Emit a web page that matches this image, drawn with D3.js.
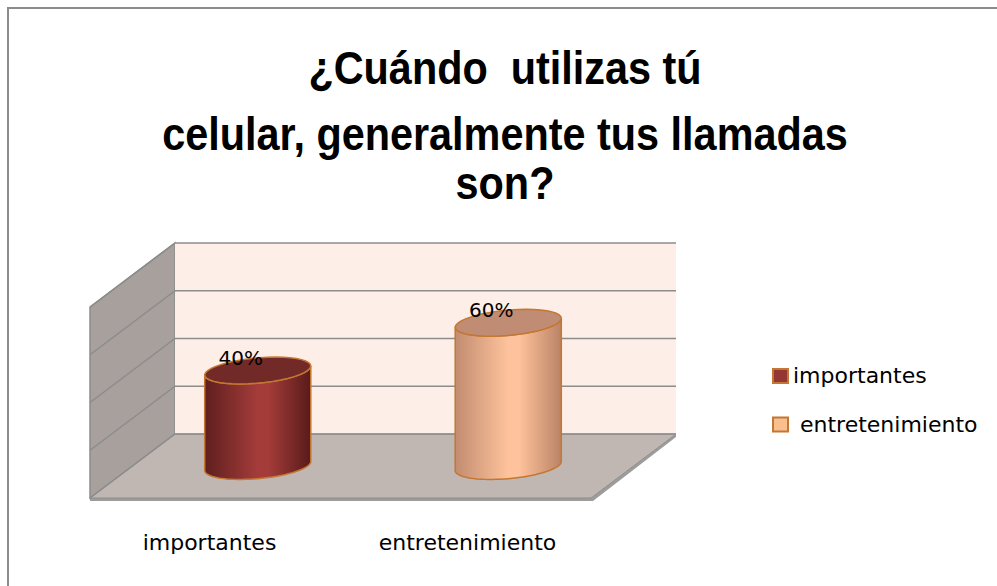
<!DOCTYPE html>
<html>
<head>
<meta charset="utf-8">
<script src="https://cdn.jsdelivr.net/npm/d3@7"></script>
<style>
  body { margin: 0; background: #fff; }
  text { white-space: pre; }
</style>
</head>
<body>
<div id="chart"></div>
<script>
(function() {
	var width = 997,
		height = 586;

	// datos
	var categories = ["importantes", "entretenimiento"];
	var values = [0.4, 0.6];
	var valueLabels = ["40%", "60%"];
	var legendLabels = ["importantes", " entretenimiento"];
	var yTicks = [0, 0.2, 0.4, 0.6, 0.8];
	var titleLines = ["¿Cuándo  utilizas tú", "celular, generalmente tus llamadas", "son?"];

	var colors = [
		{ edge1: "#5e1f1e", mid: "#a43c3a", edge2: "#581b1a", top: "#722a28", legend: "#953735" },
		{ edge1: "#c28c70", mid: "#fec39c", edge2: "#bb8366", top: "#c08c73", legend: "#fabf8f" }
	];
	var outline = "#c47732";

	var svg = d3.select("#chart")
		.append("svg")
		.attr("width", width)
		.attr("height", height)

	// marco
	svg.append("rect")
		.attr("x", 8).attr("y", 8)
		.attr("width", 1100).attr("height", 700)
		.attr("fill", "#fff")
		.attr("stroke", "#8c8c8c")
		.attr("stroke-width", 2)

	// titulo (fuente estrecha: Liberation Sans comprimida)
	var titleY = [84, 150, 199];
	svg.append("g")
		.attr("transform", "translate(505,0) scale(0.9,1)")
		.selectAll("text")
		.data(titleLines)
		.enter().append("text")
		.attr("x", 0)
		.attr("y", function(d, i) { return titleY[i] })
		.attr("text-anchor", "middle")
		.attr("font-family", "'Liberation Sans', Arial, sans-serif")
		.attr("font-weight", "bold")
		.attr("font-size", 46)
		.text(function(d) { return d })

	// geometria 3D: plano frontal + desplazamiento de profundidad
	var x0 = 90,
		plotW = 501,
		depthX = 85,
		depthY = -64;

	var x = d3.scaleBand()
		.domain(categories)
		.range([0, plotW])
		.paddingInner(0.573)
		.paddingOuter(0.2865)

	var xLabel = d3.scalePoint()
		.domain(categories)
		.range([0, plotW])
		.padding(0.471)

	var y = d3.scaleLinear()
		.domain([0, 0.8])
		.range([498, 307])

	function proj(px, v, d) {
		return [x0 + px + d * depthX, y(v) + d * depthY]
	}

	var ymax = yTicks[yTicks.length - 1];

	// pared lateral
	svg.append("path")
		.attr("d", d3.line()([proj(0, 0, 0), proj(0, ymax, 0), proj(0, ymax, 1), proj(0, 0, 1)]) + "Z")
		.attr("fill", "#a7a09c")
		.attr("stroke", "#8c8c8c")
		.attr("stroke-width", 1.5)

	// pared del fondo
	svg.append("path")
		.attr("d", d3.line()([proj(0, 0, 1), proj(0, ymax, 1), proj(plotW, ymax, 1), proj(plotW, 0, 1)]) + "Z")
		.attr("fill", "#fdefe7")

	// grosor del piso
	svg.append("path")
		.attr("d", d3.line()([proj(0, 0, 0), proj(plotW, 0, 0), proj(plotW, 0, 1),
			[proj(plotW, 0, 1)[0], proj(plotW, 0, 1)[1] + 3],
			[proj(plotW, 0, 0)[0] + 2, proj(plotW, 0, 0)[1] + 3],
			[proj(0, 0, 0)[0], proj(0, 0, 0)[1] + 3]]) + "Z")
		.attr("fill", "#9c9c9c")

	// piso
	svg.append("path")
		.attr("d", d3.line()([proj(0, 0, 0), proj(plotW, 0, 0), proj(plotW, 0, 1), proj(0, 0, 1)]) + "Z")
		.attr("fill", "#c0b7b3")
		.attr("stroke", "#8c8c8c")
		.attr("stroke-width", 1)

	// lineas de division
	var grid = svg.append("g")
		.attr("stroke", "#8c8c8c")
		.attr("stroke-width", 1.5)
		.attr("fill", "none")

	yTicks.forEach(function(t) {
		if (t === 0) return;
		grid.append("path").attr("d", d3.line()([proj(0, t, 1), proj(plotW, t, 1)]))
		grid.append("path").attr("d", d3.line()([proj(0, t, 0), proj(0, t, 1)]))
	})
	grid.append("path").attr("d", d3.line()([proj(0, 0, 1), proj(plotW, 0, 1)]))
	grid.append("path").attr("d", d3.line()([proj(0, 0, 0), proj(0, 0, 1)]))

	// gradientes
	var defs = svg.append("defs");
	colors.forEach(function(c, i) {
		var g = defs.append("linearGradient")
			.attr("id", "grad" + i)
			.attr("x1", 0).attr("x2", 1).attr("y1", 0).attr("y2", 0)
		g.append("stop").attr("offset", 0).attr("stop-color", c.edge1)
		g.append("stop").attr("offset", 0.5).attr("stop-color", c.mid)
		g.append("stop").attr("offset", 0.6).attr("stop-color", c.mid)
		g.append("stop").attr("offset", 1).attr("stop-color", c.edge2)
	})

	// cilindros
	var depthR = 0.21;
	var bars = svg.append("g");

	categories.forEach(function(cat, i) {
		var bw = x.bandwidth();
		var r = bw * 0.467;
		var cxFront = x(cat) + bw / 2;
		var a = depthR * depthX;
		var t1 = Math.atan(a / r);

		function ellipsePt(v, t) {
			var base = proj(cxFront, v, 0.5);
			return [base[0] + r * Math.cos(t) + a * Math.sin(t), base[1] + depthR * depthY * Math.sin(t)];
		}
		function arc(v, from, to) {
			return d3.range(0, 41).map(function(k) { return ellipsePt(v, from + (to - from) * k / 40) })
		}

		var v = values[i];
		var body = [ellipsePt(v, t1)]
			.concat(arc(0, t1, t1 - Math.PI))
			.concat(arc(v, t1 - Math.PI, t1));

		bars.append("path")
			.attr("d", d3.line()(body) + "Z")
			.attr("fill", "url(#grad" + i + ")")
			.attr("stroke", outline)
			.attr("stroke-width", 1.5)

		bars.append("path")
			.attr("d", d3.line()(arc(v, 0, 2 * Math.PI)) + "Z")
			.attr("fill", colors[i].top)
			.attr("stroke", outline)
			.attr("stroke-width", 1.5)

		var top = proj(cxFront, v, 0.5);
		bars.append("text")
			.attr("x", top[0] - 17)
			.attr("y", top[1] - 6)
			.attr("text-anchor", "middle")
			.attr("font-family", "'DejaVu Sans', sans-serif")
			.attr("font-size", 20)
			.attr("fill", "#000")
			.text(valueLabels[i])

		// etiqueta de categoria
		svg.append("text")
			.attr("x", x0 + xLabel(cat) - 2)
			.attr("y", 550)
			.attr("text-anchor", "middle")
			.attr("font-family", "'DejaVu Sans', sans-serif")
			.attr("font-size", 22)
			.attr("fill", "#000")
			.text(cat)
	})

	// leyenda
	var legend = svg.append("g")
		.selectAll("g")
		.data(legendLabels)
		.enter().append("g")
		.attr("transform", function(d, i) { return "translate(772," + (368 + i * 48.5) + ")" })

	legend.append("rect")
		.attr("x", 1).attr("y", 1)
		.attr("width", 15).attr("height", 14)
		.attr("fill", function(d, i) { return colors[i].legend })
		.attr("stroke", outline)
		.attr("stroke-width", 2)

	legend.append("text")
		.attr("x", 21)
		.attr("y", 15)
		.attr("font-family", "'DejaVu Sans', sans-serif")
		.attr("font-size", 22)
		.attr("fill", "#000")
		.text(function(d) { return d })

})();
</script>
</body>
</html>
